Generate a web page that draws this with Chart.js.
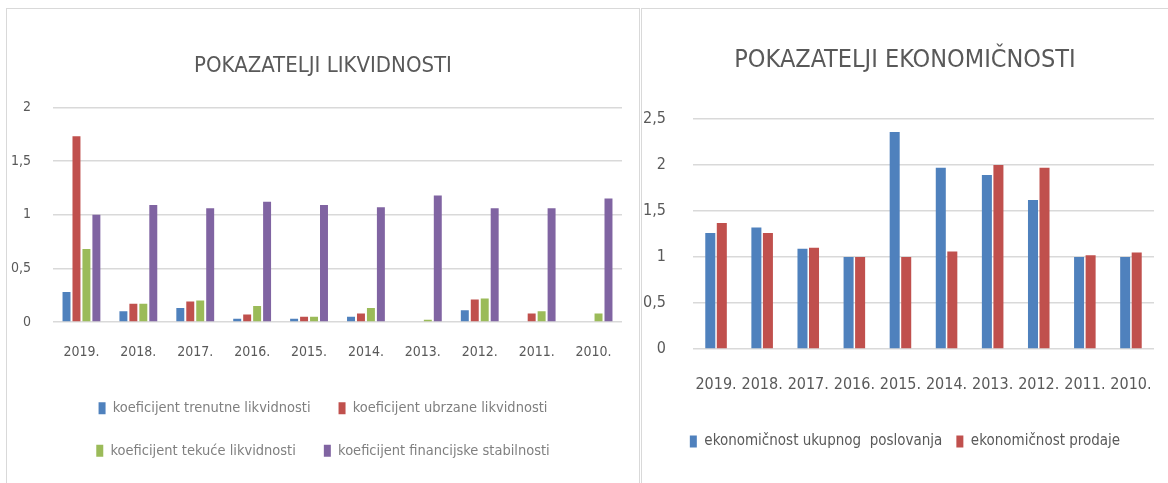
<!DOCTYPE html>
<html>
<head>
<meta charset="utf-8">
<script src="https://cdn.jsdelivr.net/npm/chart.js@4"></script>
<style>
  body { margin: 0; background: #fff; width: 1168px; height: 483px; overflow: hidden; position: relative; }
  .panel { position: absolute; top: 8px; box-sizing: border-box; border: 1px solid #d9d9d9; border-bottom: none; background: #fff; }
  #p1 { left: 6px; width: 634px; height: 475px; }
  #p2 { left: 641px; width: 527px; height: 475px; border-right: none; }
</style>
</head>
<body>
<div class="panel" id="p1"><canvas id="likvidnost"></canvas></div>
<div class="panel" id="p2"><canvas id="ekonomicnost"></canvas></div>
<script>
// Godine (isti redoslijed kao na slici)
const godine = ['2019.', '2018.', '2017.', '2016.', '2015.', '2014.', '2013.', '2012.', '2011.', '2010.'];

// Pokazatelji likvidnosti
const trenutna = [0.28, 0.10, 0.13, 0.03, 0.03, 0.05, 0, 0.11, 0, 0];
const ubrzana = [1.73, 0.17, 0.19, 0.07, 0.05, 0.08, 0, 0.21, 0.08, 0];
const tekuca = [0.68, 0.17, 0.20, 0.15, 0.05, 0.13, 0.02, 0.22, 0.10, 0.08];
const stabilnost = [1.00, 1.09, 1.06, 1.12, 1.09, 1.07, 1.18, 1.06, 1.06, 1.15];

// Pokazatelji ekonomičnosti
const ukupnoPoslovanje = [1.26, 1.32, 1.09, 1.00, 2.36, 1.97, 1.89, 1.62, 1.00, 1.00];
const prodaja = [1.37, 1.26, 1.10, 1.00, 1.00, 1.06, 2.00, 1.97, 1.02, 1.05];

const FONT = "'Liberation Sans Narrow', 'DejaVu Sans Condensed', 'Open Sans', sans-serif";
const PLAVA = '#4F81BD', CRVENA = '#C0504D', ZELENA = '#9BBB59', LJUBICASTA = '#8064A2';

const zarez = v => String(v).replace('.', ',');

function opcije(cfg) {
    return {
        responsive: true,
        maintainAspectRatio: false,
        animation: false,
        layout: { padding: { left: 0, right: 0, bottom: cfg.dolje } },
        datasets: { bar: { categoryPercentage: cfg.catPct, barPercentage: cfg.barPct } },
        plugins: {
            title: {
                display: true,
                text: cfg.naslov,
                color: '#595959',
                font: { family: FONT, size: cfg.naslovVel, weight: 'normal' },
                padding: { top: cfg.naslovGore, bottom: cfg.naslovDolje }
            },
            legend: {
                position: 'bottom',
                maxWidth: cfg.legendaSirina,
                labels: {
                    color: cfg.legendaBoja,
                    font: { family: FONT, size: cfg.legendaVel },
                    boxWidth: 7,
                    boxHeight: 12,
                    padding: cfg.legendaRazmak
                }
            },
            tooltip: { enabled: false }
        },
        scales: {
            x: {
                afterFit: s => {
                    s.height = cfg.xVisina;
                    s.paddingLeft = 0;
                    s.paddingRight = 0;
                },
                grid: { display: false, drawTicks: false },
                border: { display: false },
                ticks: { color: '#595959', font: { family: FONT, size: cfg.tickVel }, padding: cfg.xPadding, maxRotation: 0, autoSkip: false }
            },
            y: {
                min: 0,
                max: cfg.max,
                afterFit: s => { s.width = cfg.ySirina; },
                grid: { color: '#d9d9d9', lineWidth: 1.5, drawTicks: false },
                border: { display: false },
                ticks: { stepSize: 0.5, color: '#595959', font: { family: FONT, size: cfg.tickVel }, padding: cfg.yPadding, callback: zarez }
            },
            // prazan desni rub (samo razmak, bez oznaka)
            rub: {
                position: 'right',
                afterFit: s => { s.width = cfg.desno; },
                grid: { display: false, drawTicks: false },
                border: { display: false },
                ticks: { display: false }
            }
        }
    };
}

new Chart(document.getElementById('likvidnost'), {
    type: 'bar',
    data: {
        labels: godine,
        datasets: [
            { label: 'koeficijent trenutne likvidnosti', data: trenutna, backgroundColor: PLAVA },
            { label: 'koeficijent ubrzane likvidnosti', data: ubrzana, backgroundColor: CRVENA },
            { label: 'koeficijent tekuće likvidnosti', data: tekuca, backgroundColor: ZELENA },
            { label: 'koeficijent financijske stabilnosti', data: stabilnost, backgroundColor: LJUBICASTA }
        ]
    },
    options: opcije({
        naslov: 'POKAZATELJI LIKVIDNOSTI', naslovVel: 22, naslovGore: 44, naslovDolje: 28,
        max: 2, ySirina: 46, yPadding: 22, xPadding: 22, xVisina: 51, tickVel: 14,
        desno: 17, dolje: 15, catPct: 0.7, barPct: 0.8,
        legendaSirina: 470, legendaBoja: '#7f7f7f', legendaVel: 14.5, legendaRazmak: 28
    })
});

new Chart(document.getElementById('ekonomicnost'), {
    type: 'bar',
    data: {
        labels: godine,
        datasets: [
            { label: 'ekonomičnost ukupnog  poslovanja', data: ukupnoPoslovanje, backgroundColor: PLAVA },
            { label: 'ekonomičnost prodaje', data: prodaja, backgroundColor: CRVENA }
        ]
    },
    options: opcije({
        naslov: 'POKAZATELJI EKONOMIČNOSTI', naslovVel: 25, naslovGore: 36, naslovDolje: 44,
        max: 2.5, ySirina: 51, yPadding: 27, xPadding: 26, xVisina: 71, tickVel: 16,
        desno: 14, dolje: 24, catPct: 0.5, barPct: 0.87,
        legendaSirina: 525, legendaBoja: '#595959', legendaVel: 15, legendaRazmak: 14
    })
});
</script>
</body>
</html>
